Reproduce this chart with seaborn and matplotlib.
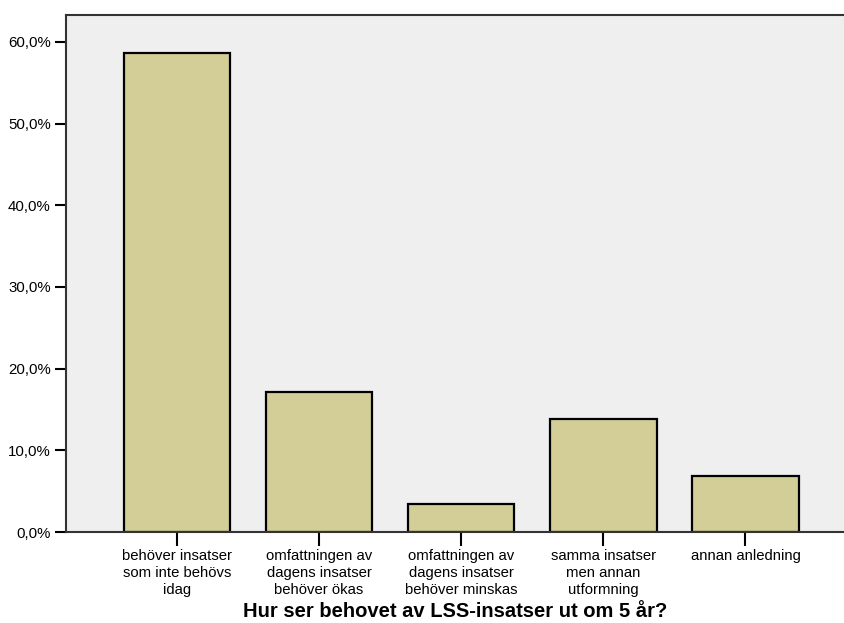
import matplotlib
matplotlib.use("Agg")
import matplotlib.pyplot as plt
from matplotlib.ticker import FuncFormatter
import pandas as pd
import seaborn as sns

# ─── Data ─────────────────────────────────────────────────────────────────────
categories = [
    "behöver insatser\nsom inte behövs\nidag",
    "omfattningen av\ndagens insatser\nbehöver ökas",
    "omfattningen av\ndagens insatser\nbehöver minskas",
    "samma insatser\nmen annan\nutformning",
    "annan anledning",
]
percent = [58.6, 17.2, 3.4, 13.8, 6.9]
y_ticks = [0, 10, 20, 30, 40, 50, 60]
x_title = "Hur ser behovet av LSS-insatser ut om 5 år?"

df = pd.DataFrame({"kategori": categories, "procent": percent})

sns.set_style("white")
plt.rcParams["font.family"] = ["Liberation Sans", "DejaVu Sans"]
plt.rcParams["text.color"] = "black"
plt.rcParams["axes.labelcolor"] = "black"

fig = plt.figure(figsize=(8.45, 6.23), dpi=100)
ax = fig.add_axes([66 / 845, 1 - 532 / 623, 1 - 66 / 845, (532 - 15) / 623])
ax.set_facecolor("#efefef")

# SPSS-style bars: khaki fill, black outline
sns.barplot(data=df, x="kategori", y="procent", color="#d3ce97",
            saturation=1, edgecolor="black", linewidth=1.6, width=0.75, ax=ax)

ax.set_xlim(-0.78, 4.70)
ax.set_ylim(0, 63.3)
ax.set_yticks(y_ticks)
ax.yaxis.set_major_formatter(FuncFormatter(lambda v, _: f"{v:.1f}%".replace(".", ",")))

ax.tick_params(axis="y", direction="out", length=8, width=1.5, color="black",
               labelsize=10.8, pad=3, left=True, labelcolor="black")
ax.tick_params(axis="x", direction="out", length=10, width=1.5, color="black",
               labelsize=10.7, pad=2, bottom=True, labelcolor="black")
for lbl in ax.get_xticklabels():
    lbl.set_linespacing(1.27)

ax.set_ylabel("")
ax.set_xlabel(x_title, fontsize=14.5, fontweight="bold", labelpad=4, color="black")

for side in ["left", "bottom", "top"]:
    ax.spines[side].set_visible(True)
    ax.spines[side].set_color("#333333")
    ax.spines[side].set_linewidth(1.5)
ax.spines["right"].set_visible(False)

plt.savefig("out.png", dpi=100)
plt.close()
